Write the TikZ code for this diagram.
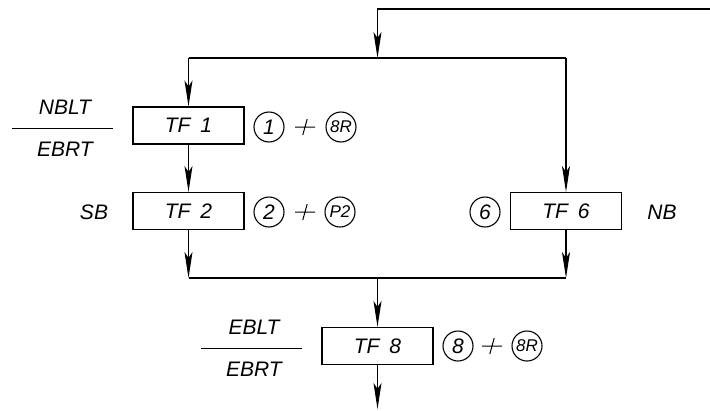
\documentclass[tikz,border=0pt]{standalone}
\usepackage{fontspec}
\setmainfont{Liberation Sans}
\usetikzlibrary{arrows.meta}
\newcommand\cadfnt{\fontsize{21}{21}\selectfont\itshape}
\newcommand\cadsmall{\fontsize{17}{17}\selectfont\itshape}
\begin{document}
\begin{tikzpicture}[x=1pt,y=-1pt,line width=1.1pt,
  box/.style={draw,minimum width=111pt,minimum height=37pt,inner sep=0pt,font=\cadfnt},
  circ/.style={draw,circle,minimum size=30pt,inner sep=0pt,font=\cadfnt},
  circs/.style={draw,circle,minimum size=30pt,inner sep=0pt,font=\cadsmall},
  lbl/.style={inner sep=0pt,font=\cadfnt},
  plus/.style={minimum width=20pt,minimum height=16pt,inner sep=0pt,
    path picture={\draw[line width=1pt]
      ([xshift=2.2pt]path picture bounding box.north) -- ([xshift=-2.2pt]path picture bounding box.south)
      (path picture bounding box.west) -- (path picture bounding box.east);}},
  arr/.style={-{Stealth[length=26pt,width=8pt,inset=6pt]}}]
\useasboundingbox (0,0) rectangle (710,410);
% boxes
\node[box] (tf1) at (188.5,125.5) {TF\hspace{10pt}1};
\node[box] (tf2) at (188.5,211) {TF\hspace{10pt}2};
\node[box] (tf6) at (566,211) {TF\hspace{10pt}6};
\node[box] (tf8) at (377.5,346) {TF\hspace{10pt}8};
% junction coordinates
\coordinate (in) at (710,9);
\coordinate (c1) at (377.5,9);
\coordinate (j1) at (377.5,58);
\coordinate (jl) at (188.5,58);
\coordinate (jr) at (566,58);
\coordinate (bl) at (188.5,278);
\coordinate (br) at (566,278);
\coordinate (j2) at (377.5,278);
\coordinate (out) at (377.5,409);
% connectors
\draw[arr] (in) -- (c1) -- (j1);
\draw (jl) -- (jr);
\draw[arr] (jl) -- (tf1);
\draw[arr] (jr) -- (tf6);
\draw[arr] (tf1) -- (tf2);
\draw[arr] (tf2) -- (bl);
\draw[arr] (tf6) -- (br);
\draw (bl) -- (br);
\draw[arr] (j2) -- (tf8);
\draw[arr] (tf8) -- (out);
% fraction labels
\node[lbl] (nblt) at (65,107) {NBLT};
\node[lbl] (ebrt1) at (65,149) {EBRT};
\draw[line width=1pt] (12,128) -- (113,128);
\node[lbl] (eblt) at (254,327) {EBLT};
\node[lbl] (ebrt8) at (254,369) {EBRT};
\draw[line width=1pt] (201,348) -- (302,348);
% side labels
\node[lbl] (sb) at (94,212) {SB};
\node[lbl] (nb) at (662,212) {NB};
% circled marks
\node[circ] (m1) at (269,127) {1};
\node[plus] (p1) at (305,127) {};
\node[circs] (m8r1) at (341,127) {8R};
\node[circ] (m2) at (269,212) {2};
\node[plus] (p2) at (305,212) {};
\node[circs] (mp2) at (340,212) {P2};
\node[circ] (m6) at (485,212) {6};
\node[circ] (m8) at (458,346) {8};
\node[plus] (p8) at (492,346) {};
\node[circs] (m8r8) at (527,346) {8R};
\end{tikzpicture}
\end{document}
